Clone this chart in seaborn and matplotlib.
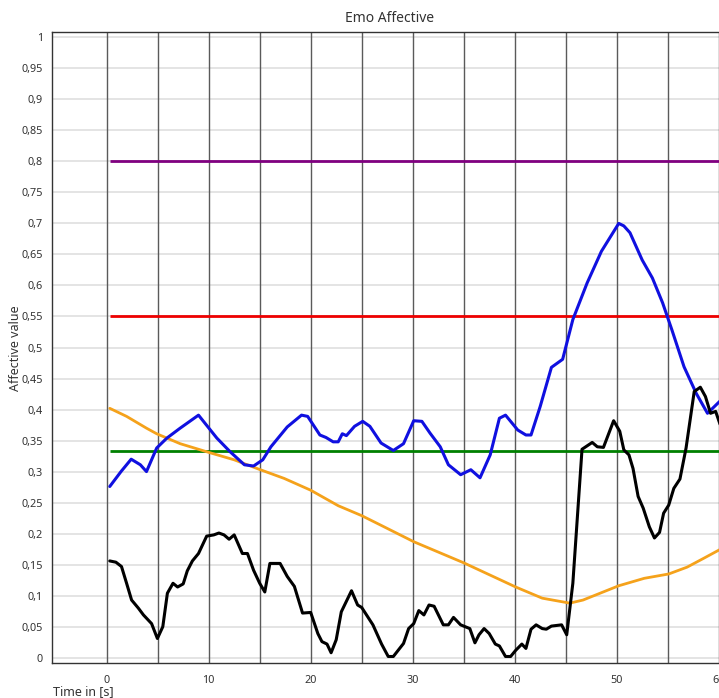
import numpy as np
import pandas as pd
import matplotlib
matplotlib.use("Agg")
import matplotlib.pyplot as plt
import matplotlib.ticker as mticker
import seaborn as sns

# ---------------- data ----------------
blue_x = [0.3, 1.4, 2.4, 3.3, 3.9, 4.9, 5.9, 7.2, 9.0, 10.8, 12.1, 13.5, 14.4, 15.3, 16.1, 17.7,
          19.1, 19.7, 20.9, 21.5, 22.2, 22.7, 23.1, 23.5, 24.3, 25.1, 25.8, 26.9, 28.1, 29.1,
          30.1, 30.9, 31.7, 32.7, 33.5, 34.7, 35.7, 36.6, 37.6, 38.5, 39.1, 40.3, 41.1, 41.6,
          42.5, 43.6, 44.7, 45.7, 47.1, 48.5, 50.2, 50.7, 51.3, 52.5, 53.5, 54.5, 55.4, 56.6,
          57.8, 58.9, 59.4, 60.4]
blue_y = [0.276, 0.300, 0.320, 0.311, 0.300, 0.338, 0.354, 0.370, 0.391, 0.354, 0.332, 0.311,
          0.309, 0.319, 0.340, 0.372, 0.391, 0.389, 0.359, 0.355, 0.348, 0.348, 0.361, 0.358,
          0.373, 0.381, 0.373, 0.346, 0.334, 0.345, 0.382, 0.381, 0.362, 0.340, 0.311, 0.295,
          0.303, 0.290, 0.327, 0.386, 0.391, 0.367, 0.359, 0.359, 0.405, 0.468, 0.481, 0.545,
          0.604, 0.655, 0.700, 0.696, 0.685, 0.641, 0.612, 0.572, 0.529, 0.469, 0.426, 0.394,
          0.402, 0.418]

black_x = [0.3, 0.9, 1.45, 1.95, 2.44, 3.1, 3.6, 4.4, 4.97, 5.5, 5.95, 6.5, 6.95, 7.5, 7.9,
           8.4, 9.0, 9.8, 10.5, 11.0, 11.5, 12.0, 12.5, 13.3, 13.8, 14.4, 15.0, 15.5, 16.0,
           17.0, 17.7, 18.4, 19.2, 20.0, 20.7, 21.1, 21.6, 22.0, 22.5, 23.0, 24.0, 24.6, 25.0,
           26.1, 26.95, 27.6, 28.1, 29.1, 29.6, 30.1, 30.6, 31.1, 31.6, 32.1, 33.0, 33.5, 34.0,
           34.7, 35.6, 36.1, 36.5, 37.0, 37.5, 38.1, 38.5, 39.1, 39.6, 40.1, 40.7, 41.1, 41.6,
           42.1, 42.7, 43.1, 43.6, 44.6, 45.1, 45.7, 46.6, 47.6, 48.1, 48.7, 49.7, 50.3, 50.7,
           51.2, 51.6, 52.1, 52.6, 53.2, 53.7, 54.2, 54.6, 55.1, 55.6, 56.2, 56.8, 57.6, 58.2,
           58.7, 59.2, 59.7, 60.2]
black_y = [0.156, 0.154, 0.147, 0.120, 0.093, 0.080, 0.069, 0.055, 0.031, 0.050, 0.104, 0.120,
           0.114, 0.119, 0.140, 0.156, 0.168, 0.196, 0.198, 0.201, 0.198, 0.191, 0.198, 0.168,
           0.168, 0.141, 0.120, 0.106, 0.152, 0.152, 0.131, 0.115, 0.072, 0.073, 0.039, 0.026,
           0.022, 0.008, 0.029, 0.074, 0.108, 0.085, 0.081, 0.053, 0.022, 0.002, 0.002, 0.023,
           0.047, 0.055, 0.076, 0.069, 0.085, 0.083, 0.053, 0.053, 0.065, 0.053, 0.047, 0.024,
           0.037, 0.047, 0.039, 0.022, 0.019, 0.002, 0.002, 0.012, 0.022, 0.015, 0.046, 0.053,
           0.047, 0.046, 0.051, 0.053, 0.037, 0.120, 0.336, 0.347, 0.340, 0.339, 0.382, 0.365,
           0.335, 0.327, 0.305, 0.260, 0.241, 0.211, 0.193, 0.202, 0.233, 0.246, 0.273, 0.288,
           0.338, 0.429, 0.436, 0.421, 0.394, 0.397, 0.373]

orange_x = [0.3, 1.95, 3.9, 4.9, 7.2, 10.0, 12.5, 14.9, 17.4, 20.0, 22.7, 25.0, 26.95, 30.1,
            35.0, 40.1, 42.7, 45.4, 46.7, 50.2, 52.7, 55.1, 56.9, 58.5, 60.3]
orange_y = [0.402, 0.389, 0.370, 0.361, 0.345, 0.331, 0.319, 0.304, 0.289, 0.270, 0.245, 0.229,
            0.213, 0.187, 0.153, 0.114, 0.096, 0.088, 0.093, 0.116, 0.128, 0.135, 0.146, 0.160,
            0.176]

threshold_levels = [0.8, 0.55, 0.333]
threshold_colors = ["#800080", "#ee0000", "#008000"]
threshold_start = 0.3

title = "Emo Affective"
xlabel = "Time in [s]"
ylabel = "Affective value"

# ---------------- plot ----------------
sns.set_style("white")
plt.rcParams["font.family"] = ["Noto Sans", "DejaVu Sans"]
text_color = "#333333"

W, H = 719, 698
fig = plt.figure(figsize=(W / 100, H / 100), dpi=100)
left_px, right_px, top_px, bot_px = 52, 735, 31.7, 662.7
ax = fig.add_axes([left_px / W, 1 - bot_px / H, (right_px - left_px) / W, (bot_px - top_px) / H])

x_lo, x_hi = (52 - 106.7) / 10.2, (735 - 106.7) / 10.2
y_lo, y_hi = -0.008, 1.009
ax.set_xlim(x_lo, x_hi)
ax.set_ylim(y_lo, y_hi)

# grid: light horizontal, dark vertical
for yv in np.arange(0, 1.0001, 0.05):
    ax.axhline(yv, color="#dcdcdc", lw=1.1, zorder=0)
for xv in np.arange(0, 61, 5):
    ax.axvline(xv, color="#5a5a5a", lw=1.0, zorder=1)

# thresholds
ax.hlines(threshold_levels, threshold_start, x_hi, colors=threshold_colors, lw=2.0, zorder=2)

df_orange = pd.DataFrame({"t": orange_x, "v": orange_y})
df_blue = pd.DataFrame({"t": blue_x, "v": blue_y})
df_black = pd.DataFrame({"t": black_x, "v": black_y})
sns.lineplot(data=df_orange, x="t", y="v", color="#f5a21b", lw=2.0, ax=ax, zorder=3)
sns.lineplot(data=df_blue, x="t", y="v", color="#1010e0", lw=2.2, ax=ax, zorder=4)
sns.lineplot(data=df_black, x="t", y="v", color="#000000", lw=2.2, ax=ax, zorder=5)

# axes appearance
for s in ["left", "bottom", "top"]:
    ax.spines[s].set_visible(True)
    ax.spines[s].set_color("#333333")
    ax.spines[s].set_linewidth(1.0)
ax.spines["right"].set_visible(False)

ax.yaxis.set_major_locator(mticker.MultipleLocator(0.05))
ax.yaxis.set_minor_locator(mticker.MultipleLocator(0.005))
ax.xaxis.set_major_locator(mticker.MultipleLocator(10))
ax.xaxis.set_minor_locator(mticker.MultipleLocator(1))

def yfmt(v, pos):
    if v < -1e-9 or v > 1.0001:
        return ""
    s = f"{v:.2f}".rstrip("0").rstrip(".")
    return s.replace(".", ",")

def xfmt(v, pos):
    if v < -1e-9:
        return ""
    return f"{int(round(v))}"

ax.yaxis.set_major_formatter(mticker.FuncFormatter(yfmt))
ax.xaxis.set_major_formatter(mticker.FuncFormatter(xfmt))
ax.tick_params(axis="both", which="major", direction="out", length=5, width=0.9,
               color="#333333", labelsize=7.8, labelcolor=text_color, pad=1.5)
ax.tick_params(axis="both", which="minor", direction="out", length=3, width=0.7, color="#333333")
ax.tick_params(axis="x", which="major", pad=3.5)

ax.set_xlabel("")
ax.set_ylabel("")
fig.text(53 / W, 1 - 692 / H, xlabel, fontsize=9, color=text_color, va="center", ha="left")
fig.text(16 / W, 1 - 348 / H, ylabel, fontsize=9, color=text_color, rotation=90,
         va="center", ha="center")
fig.text(390 / W, 1 - 18 / H, title, fontsize=10, color=text_color, va="center", ha="center")

fig.savefig("out.png", dpi=100)
